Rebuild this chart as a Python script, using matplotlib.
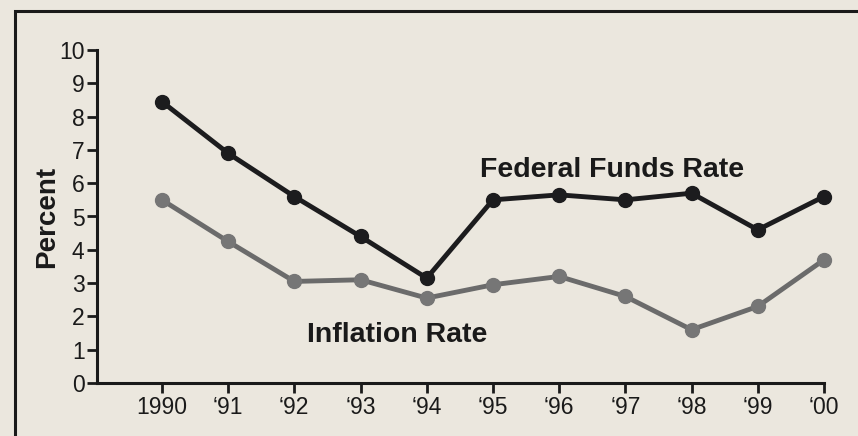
import matplotlib.pyplot as plt
from matplotlib.patches import Rectangle

years = [1990, 1991, 1992, 1993, 1994, 1995, 1996, 1997, 1998, 1999, 2000]
year_labels = ['1990', "\u201891", "\u201892", "\u201893", "\u201894", "\u201895",
               "\u201896", "\u201897", "\u201898", "\u201899", "\u201800"]
fed_funds = [8.45, 6.9, 5.6, 4.4, 3.15, 5.5, 5.65, 5.5, 5.7, 4.6, 5.6]
inflation = [5.5, 4.25, 3.05, 3.1, 2.55, 2.95, 3.2, 2.6, 1.6, 2.3, 3.7]

bg = '#ebe7de'
plt.rcParams['font.family'] = ['Liberation Sans', 'DejaVu Sans']

fig = plt.figure(figsize=(8.58, 4.36), dpi=100, facecolor=bg)
# outer frame of the printed figure
fig.patches.append(Rectangle((15 / 858, -0.05), 1.0, 1 - 11 / 436 + 0.05,
                             transform=fig.transFigure, fill=False,
                             edgecolor='#1a1a1a', linewidth=2.2))

ax = fig.add_axes([97 / 858, 1 - 383 / 436, (824 - 97) / 858, (383 - 50) / 436])
ax.set_facecolor(bg)

ax.plot(years, inflation, color='#6b6b6b', linewidth=3.5, marker='o', clip_on=False,
        markersize=10, markerfacecolor='#767676', markeredgecolor='#767676', zorder=3)
ax.plot(years, fed_funds, color='#1c1c1e', linewidth=3.5, marker='o', clip_on=False,
        markersize=10, markerfacecolor='#1c1c1e', markeredgecolor='#1c1c1e', zorder=4)

ax.text(1996.8, 6.4, 'Federal Funds Rate', fontsize=20.5, fontweight='bold',
        ha='center', va='center', color='#1a1a1a')
ax.text(1993.55, 1.45, 'Inflation Rate', fontsize=20.5, fontweight='bold',
        ha='center', va='center', color='#1a1a1a')

ax.set_xlim(1989.02, 2000)
ax.set_ylim(0, 10)
ax.set_xticks(years)
ax.set_xticklabels(year_labels)
ax.set_yticks(range(0, 11))
ax.tick_params(axis='both', direction='out', length=7, width=2, labelsize=16.5,
               colors='#1a1a1a', pad=2)
ax.set_ylabel('Percent', fontsize=20, fontweight='bold', color='#1a1a1a', labelpad=-1)

for side in ['top', 'right']:
    ax.spines[side].set_visible(False)
for side in ['left', 'bottom']:
    ax.spines[side].set_linewidth(2.2)
    ax.spines[side].set_color('#1a1a1a')

fig.savefig('out.png', dpi=100, facecolor=bg)
